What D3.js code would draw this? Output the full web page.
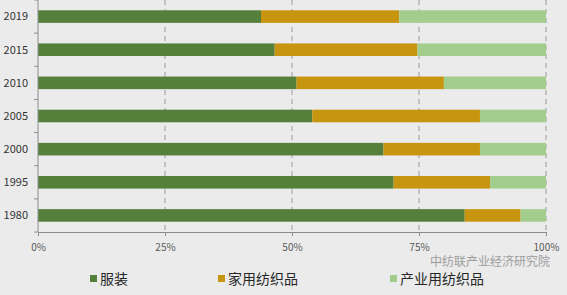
<!DOCTYPE html>
<html>
<head>
<meta charset="utf-8">
<script src="https://cdn.jsdelivr.net/npm/d3@7"></script>
<style>
  html, body { margin: 0; padding: 0; background: #ebebeb; }
  svg { display: block; }
  text { font-family: "Noto Sans CJK SC", "Noto Sans", sans-serif; }
</style>
</head>
<body>
<svg id="chart" width="567" height="295"></svg>
<script>
// years, top to bottom
var years = ["2019", "2015", "2010", "2005", "2000", "1995", "1980"];
// share of each use (percent)
var apparel = [43.9, 46.6, 50.9, 54.0, 68.0, 70.0, 84.0];
var home = [27.2, 28.1, 29.0, 33.0, 19.0, 19.0, 11.0];
var industrial = [28.9, 25.3, 20.1, 13.0, 13.0, 11.0, 5.0];
var seriesNames = ["服装", "家用纺织品", "产业用纺织品"];
var xTicks = [0, 25, 50, 75, 100];

var colors = ["#55803b", "#c7950f", "#a3cd8d"];

var svg = d3.select("#chart");
var plotLeft = 38, plotRight = 546, plotTop = 0, plotBottom = 232;

var x = d3.scaleLinear().domain([0, 100]).range([plotLeft, plotRight]);
var y = d3.scaleBand().domain(years).range([plotTop, plotBottom]).paddingInner(0.62).paddingOuter(0.31);

var rows = years.map(function(yr, i) {
  return { year: yr, a: apparel[i], h: home[i], ind: industrial[i] };
});
var stack = d3.stack().keys(["a", "h", "ind"])(rows);

// dashed gridlines
svg.append("g").selectAll("line")
  .data(xTicks.slice(1))
  .enter().append("line")
    .attr("x1", function(d) { return x(d); })
    .attr("x2", function(d) { return x(d); })
    .attr("y1", plotTop)
    .attr("y2", plotBottom)
    .attr("stroke", "#9a9a9a")
    .attr("stroke-width", 1)
    .attr("stroke-dasharray", "5,4");

// bars
svg.append("g").selectAll("g")
  .data(stack)
  .enter().append("g")
    .attr("fill", function(d, i) { return colors[i]; })
  .selectAll("rect")
  .data(function(d) { return d; })
  .enter().append("rect")
    .attr("x", function(d) { return x(d[0]); })
    .attr("width", function(d) { return x(d[1]) - x(d[0]); })
    .attr("y", function(d) { return y(d.data.year); })
    .attr("height", y.bandwidth());

// x axis
var xAxis = svg.append("g")
  .attr("transform", "translate(0," + plotBottom + ")")
  .call(d3.axisBottom(x).tickValues(xTicks).tickSize(4).tickFormat(function(d) { return d + "%"; }));
xAxis.select(".domain").attr("stroke", "#8c8c8c");
xAxis.selectAll(".tick line").attr("stroke", "#8c8c8c");
xAxis.selectAll("text")
  .attr("fill", "#595959")
  .attr("font-size", "10px")
  .attr("dy", "1.2em");

// y axis: ticks sit between the categories
var yAxis = svg.append("g")
  .attr("transform", "translate(" + plotLeft + ",0)");
yAxis.append("line")
  .attr("x1", 0).attr("x2", 0)
  .attr("y1", plotTop).attr("y2", plotBottom)
  .attr("stroke", "#8c8c8c");
var step = y.step();
yAxis.selectAll(".sep")
  .data(d3.range(years.length + 1))
  .enter().append("line")
    .attr("x1", -4).attr("x2", 0)
    .attr("y1", function(i) { return plotTop + i * step; })
    .attr("y2", function(i) { return plotTop + i * step; })
    .attr("stroke", "#8c8c8c");
yAxis.selectAll("text")
  .data(years)
  .enter().append("text")
    .attr("x", -10)
    .attr("y", function(d) { return y(d) + y.bandwidth() / 2; })
    .attr("dy", "0.35em")
    .attr("text-anchor", "end")
    .attr("font-size", "11px")
    .attr("fill", "#333")
    .text(function(d) { return d; });

// legend
var legendX = [90, 218, 390];
var legend = svg.append("g").selectAll("g")
  .data(seriesNames)
  .enter().append("g")
    .attr("transform", function(d, i) { return "translate(" + legendX[i] + ",279)"; });
legend.append("rect")
  .attr("x", 0).attr("y", -4)
  .attr("width", 7).attr("height", 7)
  .attr("fill", function(d, i) { return colors[i]; });
legend.append("text")
  .attr("x", 10)
  .attr("dy", "0.35em")
  .attr("font-size", "14px")
  .attr("fill", "#262626")
  .text(function(d) { return d; });

// watermark
svg.append("text")
  .attr("x", 430)
  .attr("y", 262)
  .attr("dy", "0.35em")
  .attr("font-size", "12px")
  .attr("fill", "#8a8a8a")
  .attr("opacity", 0.8)
  .text("中纺联产业经济研究院");
</script>
</body>
</html>
